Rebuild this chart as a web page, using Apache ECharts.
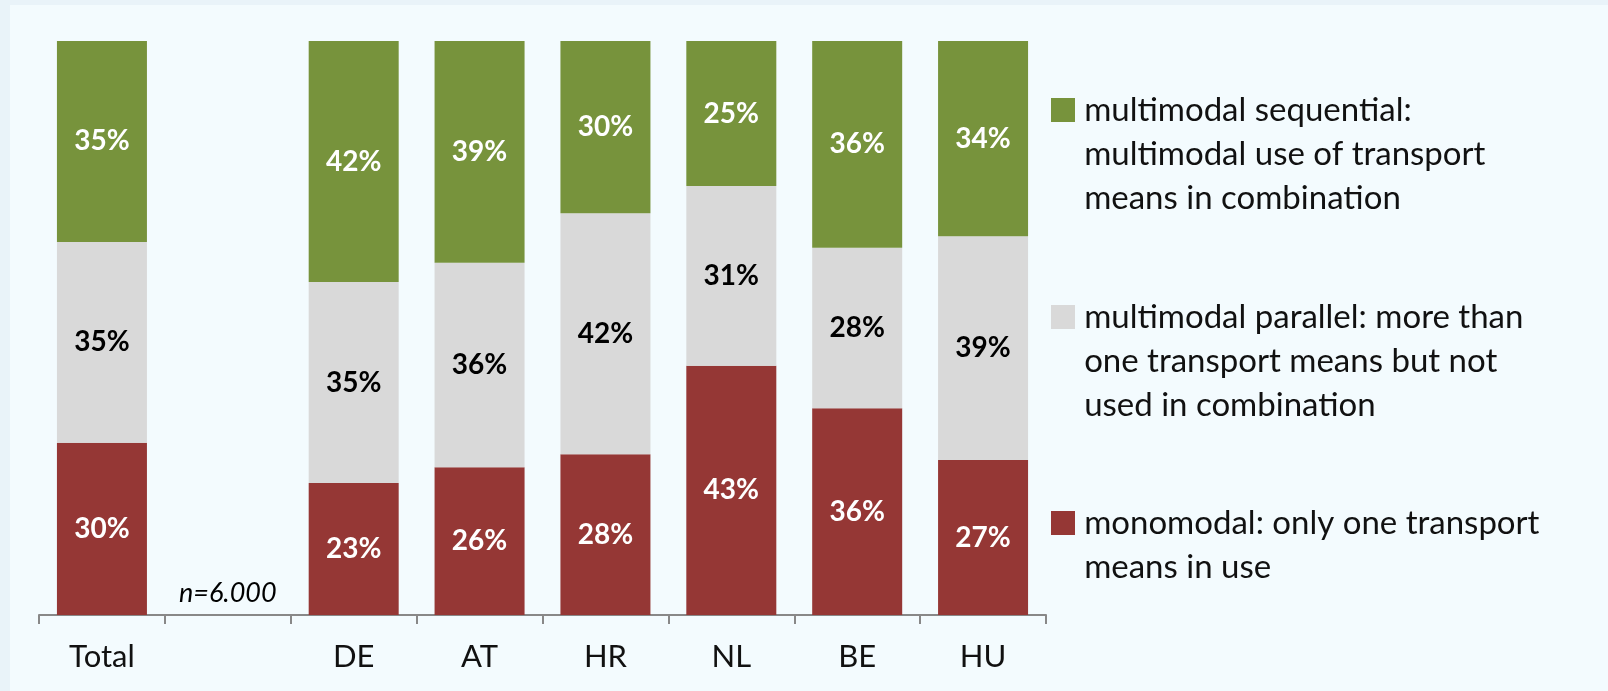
<!DOCTYPE html>
<html>
<head>
<meta charset="utf-8">
<script src="https://cdn.jsdelivr.net/npm/echarts@6/dist/echarts.min.js"></script>
<style>
  html, body { margin: 0; padding: 0; background: #e9f3f9; }
  #chart { position: absolute; left: 10px; top: 5px; width: 1598px; height: 686px; }
</style>
</head>
<body>
<div id="chart"></div>
<script>
// categories, the blank one holds the sample size note
var categories = ['Total', '', 'DE', 'AT', 'HR', 'NL', 'BE', 'HU']
var monomodal = [30, null, 23, 26, 28, 43, 36, 27]
var parallel = [35, null, 35, 36, 42, 31, 28, 39]
var sequential = [35, null, 42, 39, 30, 25, 36, 34]
var sampleNote = 'n=6.000'

var names = ['monomodal', 'multimodal parallel', 'multimodal sequential']
var legendLines = {
  'multimodal sequential': ['multimodal sequential:', 'multimodal use of transport', 'means in combination'],
  'multimodal parallel': ['multimodal parallel: more than', 'one transport means but not', 'used in combination'],
  'monomodal': ['monomodal: only one transport', 'means in use']
}
var colors = ['#953735', '#d9d9d9', '#77933c']
var labelColors = ['#ffffff', '#000000', '#ffffff']

var font = 'Lato, "Open Sans", sans-serif'
var lineH = 44

// 100% stacked: every bar is scaled by its own sum
function share (arr, i) {
  var sum = monomodal[i] + parallel[i] + sequential[i]
  return arr[i] / sum * 100
}

function buildSeries (arr, idx) {
  var data = arr.map(function (v, i) {
    if (v == null) {
      if (idx === 0) {
        return {
          value: 0,
          label: {
            show: true,
            position: 'top',
            distance: 8,
            formatter: sampleNote,
            color: '#000',
            fontStyle: 'italic',
            fontWeight: 'normal',
            fontSize: 27
          }
        }
      }
      return { value: 0, label: { show: false } }
    }
    return { value: share(arr, i) }
  })
  return {
    name: names[idx],
    type: 'bar',
    stack: 'all',
    barWidth: 90,
    data: data,
    itemStyle: { color: colors[idx] },
    label: {
      show: true,
      position: 'inside',
      color: labelColors[idx],
      fontFamily: font,
      fontWeight: 'bold',
      fontSize: 28,
      formatter: function (p) {
        return arr[p.dataIndex] + '%'
      }
    }
  }
}

// the icon sits on the first text line: blank lines above keep the block centred on it
function legendFor (name, iconY) {
  var lines = legendLines[name]
  var n = lines.length
  return {
    show: true,
    selectedMode: false,
    orient: 'vertical',
    left: 1041,
    top: iconY - (n - 0.5) * lineH,
    padding: 0,
    itemWidth: 24,
    itemHeight: 24,
    icon: 'rect',
    data: [name],
    formatter: function (nm) {
      var pre = new Array(n).join('\n')
      return pre + legendLines[nm].map(function (s) { return '\u2009' + s }).join('\n')
    },
    textStyle: {
      fontFamily: font,
      fontSize: 33,
      color: '#111',
      lineHeight: lineH
    }
  }
}

var chart = echarts.init(document.getElementById('chart'))
chart.setOption({
  backgroundColor: '#f3fbfe',
  animation: false,
  textStyle: { fontFamily: font },
  grid: { left: 29, top: 36, width: 1007, height: 574 },
  legend: [
    legendFor('multimodal sequential', 105),
    legendFor('multimodal parallel', 312),
    legendFor('monomodal', 518)
  ],
  xAxis: {
    type: 'category',
    data: categories,
    axisLine: { lineStyle: { color: '#888888', width: 2 } },
    axisTick: { show: true, length: 9, lineStyle: { color: '#888888', width: 2 } },
    axisLabel: { color: '#111', fontSize: 31, margin: 26, fontFamily: font }
  },
  yAxis: {
    type: 'value',
    min: 0,
    max: 100,
    show: false
  },
  series: [
    buildSeries(monomodal, 0),
    buildSeries(parallel, 1),
    buildSeries(sequential, 2)
  ]
})
</script>
</body>
</html>
